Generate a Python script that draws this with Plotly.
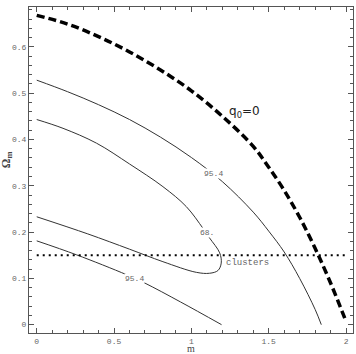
import plotly.graph_objects as go

# q0 = 0 dashed curve
q0_m = [0, 0.2, 0.4, 0.6, 0.8, 1.0, 1.2, 1.4, 1.5, 1.6, 1.7, 1.8, 1.9, 2.0]
q0_om = [0.668, 0.649, 0.622, 0.589, 0.550, 0.505, 0.450, 0.385, 0.340, 0.290, 0.232, 0.165, 0.090, 0.007]

# 95.4% contour, outer branch
c95a_m = [0, 0.2, 0.4, 0.6, 0.8, 1.0, 1.2, 1.4, 1.5, 1.6, 1.7, 1.8, 1.84]
c95a_om = [0.528, 0.503, 0.475, 0.443, 0.405, 0.361, 0.309, 0.243, 0.202, 0.157, 0.100, 0.033, 0.0]

# 68% contour
c68_m = [0, 0.17, 0.386, 0.6, 0.816, 0.967, 1.075, 1.118, 1.183, 1.193, 1.172, 1.118, 1.032, 0.816, 0.6, 0.33, 0]
c68_om = [0.443, 0.424, 0.392, 0.347, 0.298, 0.255, 0.208, 0.187, 0.155, 0.133, 0.117, 0.111, 0.113, 0.136, 0.163, 0.196, 0.233]

# 95.4% contour, lower branch
c95b_m = [0, 0.256, 0.58, 0.698, 0.93, 1.195]
c95b_om = [0.181, 0.151, 0.108, 0.090, 0.049, 0.0]

# clusters constraint
clusters_m = [0, 2.0]
clusters_om = [0.15, 0.15]

# contour labels: (m, Omega_m, text)
labels_m = [1.144, 1.10, 0.633]
labels_om = [0.327, 0.198, 0.100]
labels_txt = ["95.4", "68.", "95.4"]

xticks = [0, 0.5, 1, 1.5, 2]
xticklabels = ["0", "0.5", "1", "1.5", "2"]
yticks = [0, 0.1, 0.2, 0.3, 0.4, 0.5, 0.6]
yticklabels = ["0", "0.1", "0.2", "0.3", "0.4", "0.5", "0.6"]

fig = go.Figure()
solid = dict(color="#333333", width=1)
fig.add_trace(go.Scatter(x=c95a_m, y=c95a_om, mode="lines", line=dict(shape="spline", **solid)))
fig.add_trace(go.Scatter(x=c68_m, y=c68_om, mode="lines", line=dict(shape="spline", **solid)))
fig.add_trace(go.Scatter(x=c95b_m, y=c95b_om, mode="lines", line=dict(shape="spline", **solid)))
fig.add_trace(go.Scatter(x=clusters_m, y=clusters_om, mode="lines",
                         line=dict(color="black", width=2, dash="2px,4px")))
fig.add_trace(go.Scatter(x=q0_m, y=q0_om, mode="lines",
                         line=dict(color="black", width=3.5, dash="8px,4px", shape="spline")))

mono = "Liberation Mono, Courier New, monospace"
for lx, ly, lt in zip(labels_m, labels_om, labels_txt):
    fig.add_annotation(x=lx, y=ly, text=lt, showarrow=False, bgcolor="white",
                       font=dict(family=mono, size=8, color="#666666"), borderpad=0)

fig.add_annotation(x=1.21, y=0.15, text="clusters", showarrow=False, xanchor="left", yanchor="top",
                   yshift=-1, font=dict(family=mono, size=9, color="#666666"))
fig.add_annotation(x=1.344, y=0.46, text="q<sub>0</sub>=0", showarrow=False,
                   font=dict(family="DejaVu Sans, sans-serif", size=12, color="#222222"))

fig.add_annotation(xref="paper", yref="paper", x=0.5, y=0, yshift=-22, yanchor="bottom",
                   text="m", showarrow=False, borderpad=0,
                   font=dict(family="Liberation Serif, serif", size=10, color="#444444"))
fig.add_annotation(xref="paper", yref="paper", x=0, xshift=-22, y=0.53, xanchor="center",
                   text="<b>Ω<sub>m</sub></b>", showarrow=False, textangle=-90,
                   font=dict(family="Liberation Serif, serif", size=12, color="#444444"))

axis_common = dict(showline=True, mirror="allticks", linecolor="#555555", linewidth=1,
                   ticks="inside", ticklen=5, tickcolor="#555555", tickwidth=1,
                   showgrid=False, zeroline=False,
                   tickfont=dict(family=mono, size=8, color="#666666"))
fig.update_xaxes(range=[-0.05, 2.045], tickvals=xticks, ticktext=xticklabels,
                 minor=dict(dtick=0.1, ticks="inside", ticklen=3, tickcolor="#555555", showgrid=False),
                 **axis_common)
fig.update_yaxes(range=[-0.018, 0.686], tickvals=yticks, ticktext=yticklabels,
                 minor=dict(dtick=0.02, ticks="inside", ticklen=3, tickcolor="#555555", showgrid=False),
                 **axis_common)

fig.update_layout(width=356, height=354, margin=dict(l=29, r=3, t=7, b=21),
                  plot_bgcolor="white", paper_bgcolor="white", showlegend=False)
fig.write_html("out.html")
